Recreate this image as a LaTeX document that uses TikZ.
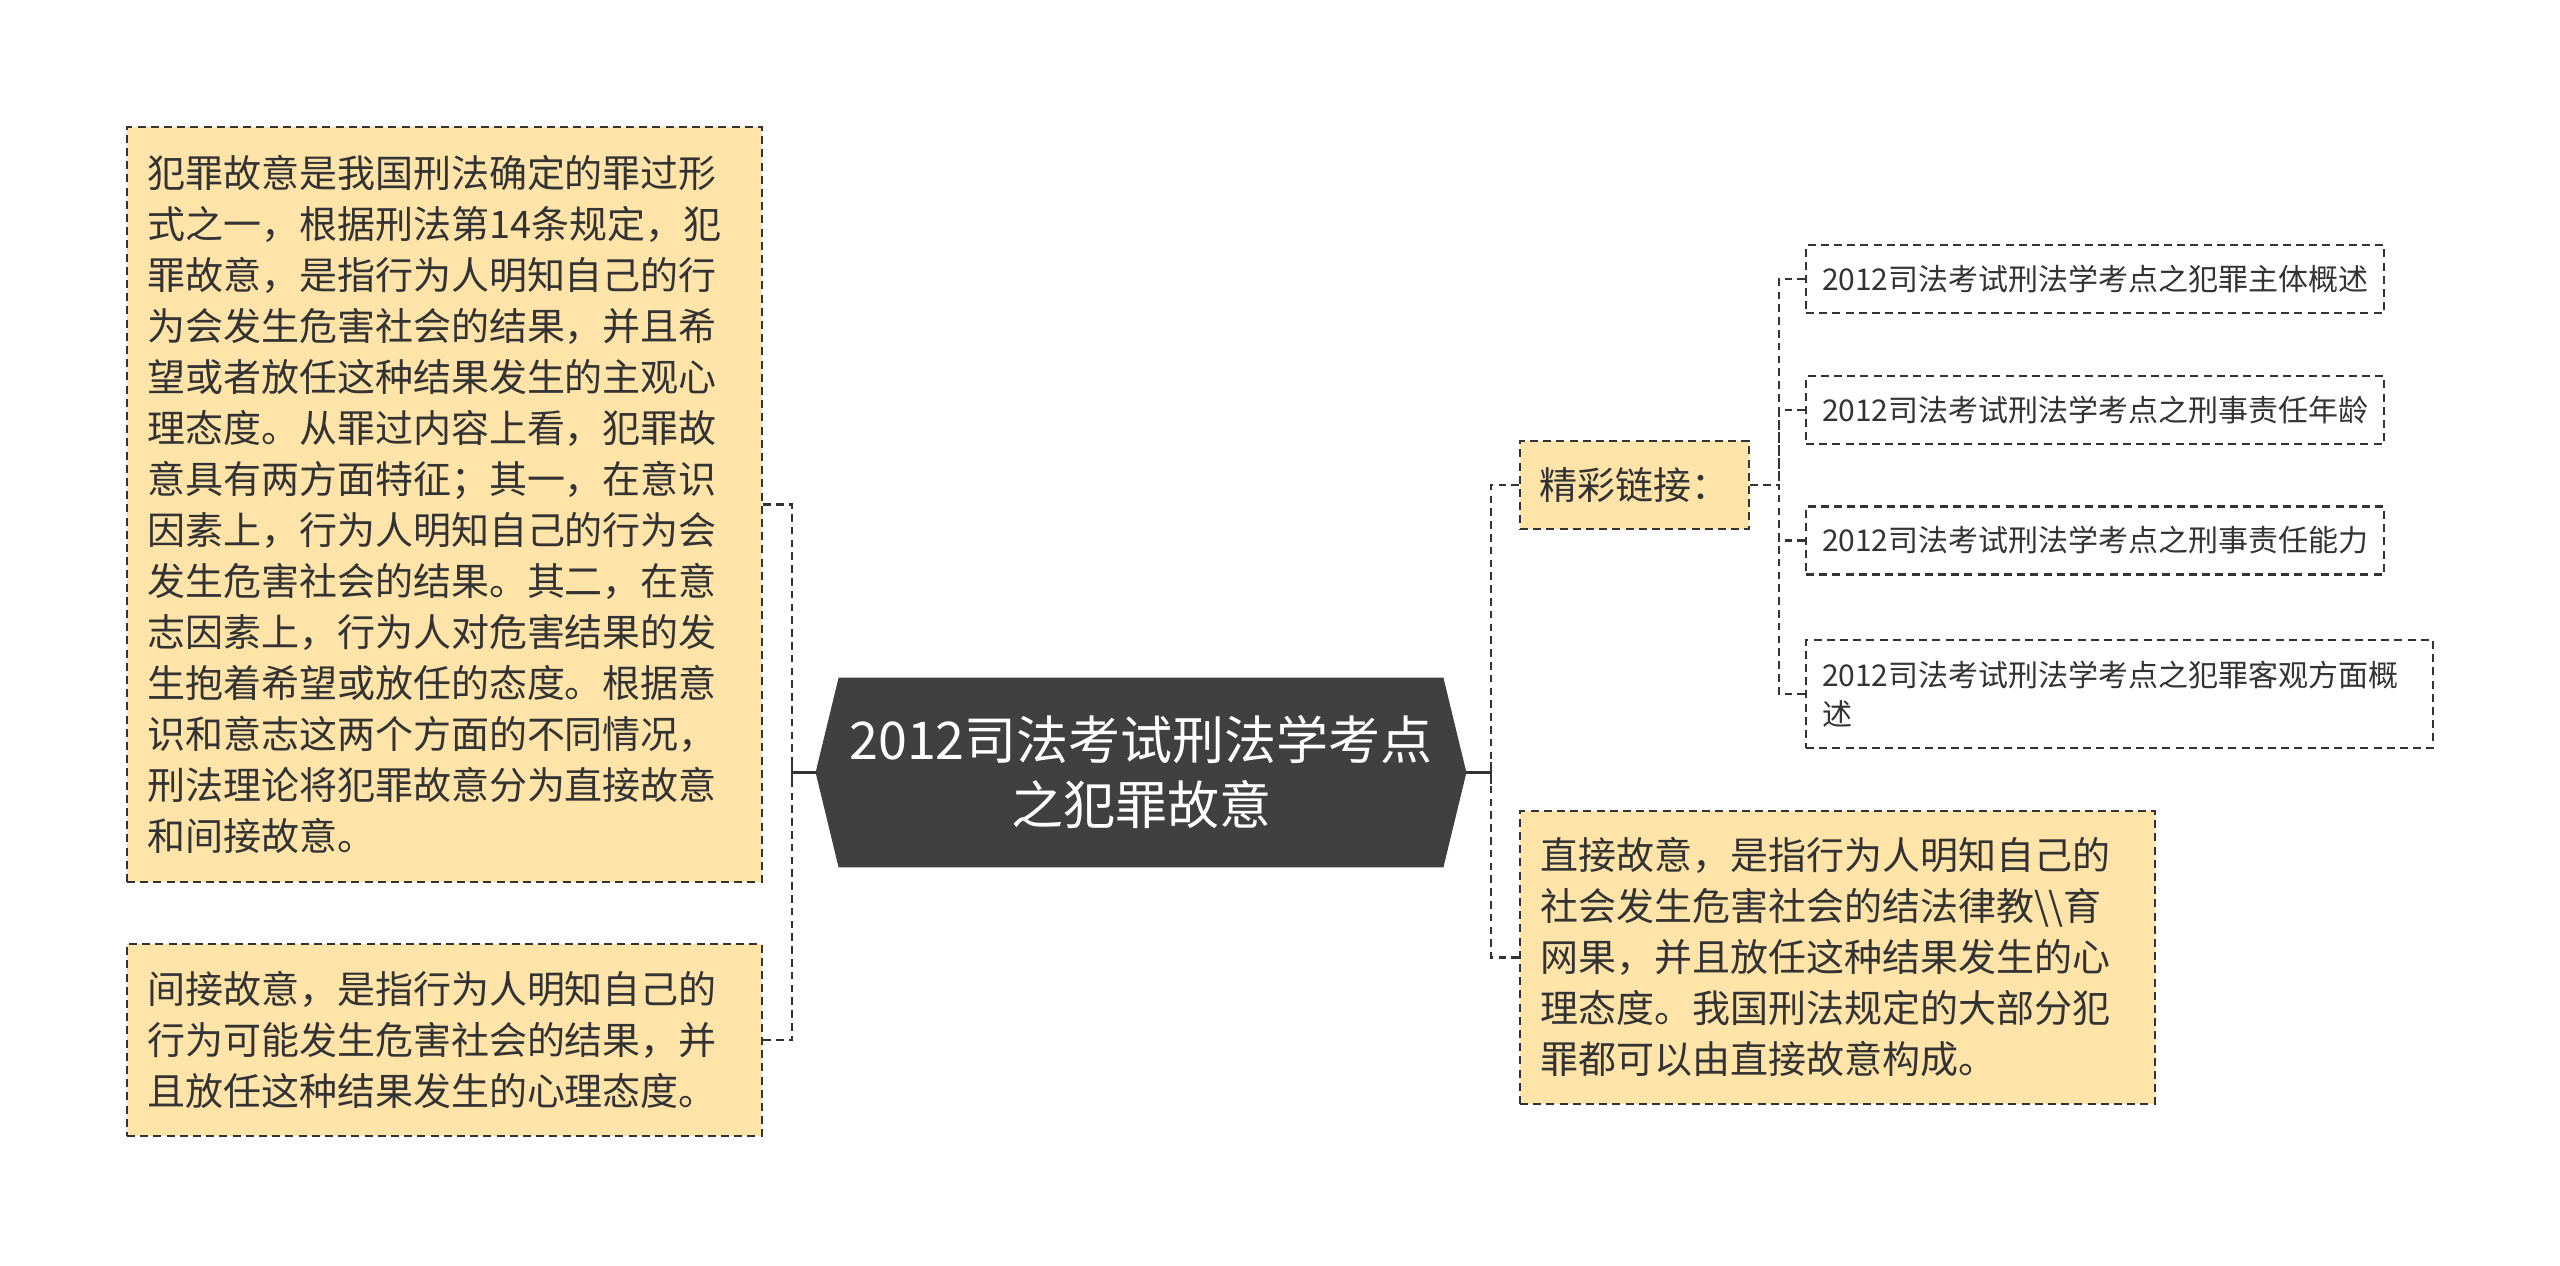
\documentclass[tikz,border=0pt]{standalone}
\usepackage{fontspec}
\setmainfont{Noto Sans CJK SC}
\usetikzlibrary{backgrounds}
\definecolor{boxfill}{HTML}{FEE4A9}
\definecolor{ink}{HTML}{333333}
\definecolor{rootfill}{HTML}{404040}
\begin{document}
\begin{tikzpicture}[x=0.5pt,y=-0.5pt,
  every node/.style={text=ink, inner ysep=0pt},
  bigtext/.style={font=\fontsize{19}{25.5}\selectfont},
  smalltext/.style={font=\fontsize{15}{19.5}\selectfont},
  dashborder/.style={draw=ink, line width=1.1pt, dash pattern=on 4pt off 2.6pt},
  ybox/.style={dashborder, fill=boxfill, bigtext, inner xsep=10pt, align=left},
  wbox/.style={dashborder, fill=white, smalltext, inner xsep=8pt, align=left},
  conn/.style={draw=ink, line width=1.3pt, dash pattern=on 3.8pt off 2.6pt},
  solidconn/.style={draw=ink, line width=1.3pt},
]
\useasboundingbox (0,0) rectangle (2560,1265);
\begin{pgfonlayer}{background}
\fill[white] (0,0) rectangle (2560,1265);
\end{pgfonlayer}

% left boxes
\node[ybox, minimum width=317.5pt, minimum height=377.5pt, text width=297.5pt] (L1) at (444.5,504.5)
{犯罪故意是我国刑法确定的罪过形\\式之一，根据刑法第14条规定，犯\\罪故意，是指行为人明知自己的行\\为会发生危害社会的结果，并且希\\望或者放任这种结果发生的主观心\\理态度。从罪过内容上看，犯罪故\\意具有两方面特征；其一，在意识\\因素上，行为人明知自己的行为会\\发生危害社会的结果。其二，在意\\志因素上，行为人对危害结果的发\\生抱着希望或放任的态度。根据意\\识和意志这两个方面的不同情况，\\刑法理论将犯罪故意分为直接故意\\和间接故意。};

\node[ybox, minimum width=317.5pt, minimum height=96pt, text width=297.5pt] (L2) at (444.5,1040)
{间接故意，是指行为人明知自己的\\行为可能发生危害社会的结果，并\\且放任这种结果发生的心理态度。};

% root
\node[minimum width=325pt, minimum height=94.5pt, inner sep=0pt, text=white,
  font=\fontsize{26}{32.5}\selectfont, align=center] (root) at (1141,772.5)
{2012司法考试刑法学考点\\之犯罪故意};
\begin{pgfonlayer}{background}
\fill[rootfill] (root.west) -- ([xshift=11.5pt]root.north west) -- ([xshift=-11.5pt]root.north east)
  -- (root.east) -- ([xshift=-11.5pt]root.south east) -- ([xshift=11.5pt]root.south west) -- cycle;
\end{pgfonlayer}

% right side
\node[ybox, minimum width=114.5pt, minimum height=44pt, align=center, inner xsep=6pt] (J) at (1634.5,485) {精彩链接：};

\node[ybox, minimum width=317.5pt, minimum height=146.5pt, text width=297.5pt] (D) at (1837.5,957.5)
{直接故意，是指行为人明知自己的\\社会发生危害社会的结法律教\textbackslash\textbackslash 育\\网果，并且放任这种结果发生的心\\理态度。我国刑法规定的大部分犯\\罪都可以由直接故意构成。};

\node[wbox, minimum width=289pt, minimum height=34pt, text width=273pt] (Sa) at (2095,279)
{2012司法考试刑法学考点之犯罪主体概述};
\node[wbox, minimum width=289pt, minimum height=34pt, text width=273pt] (Sb) at (2095,410)
{2012司法考试刑法学考点之刑事责任年龄};
\node[wbox, minimum width=289pt, minimum height=34pt, text width=273pt] (Sc) at (2095,540.5)
{2012司法考试刑法学考点之刑事责任能力};
\node[wbox, minimum width=313.5pt, minimum height=54pt, text width=297.5pt] (Sd) at (2119.5,694)
{2012司法考试刑法学考点之犯罪客观方面概\\述};

% connectors
\coordinate (Lj) at (792,772.5);
\coordinate (Rj) at (1491,772.5);
\coordinate (Sj) at (1779,485);

\draw[solidconn] (root.west) -- (Lj);
\draw[solidconn] ([yshift=5.5pt]Lj) -- ([yshift=-5.5pt]Lj);
\draw[conn] (L1.east) -| (Lj);
\draw[conn] (L2.east) -| (Lj);

\draw[solidconn] (root.east) -- (Rj);
\draw[solidconn] ([yshift=5.5pt]Rj) -- ([yshift=-5.5pt]Rj);
\draw[conn] (J.west) -| (Rj);
\draw[conn] (D.west) -| (Rj);

\draw[conn] (J.east) -- (Sj);
\draw[conn] (Sa.west) -| (Sj);
\draw[conn] (Sb.west) -| (Sj);
\draw[conn] (Sc.west) -| (Sj);
\draw[conn] (Sd.west) -| (Sj);
\end{tikzpicture}
\end{document}
